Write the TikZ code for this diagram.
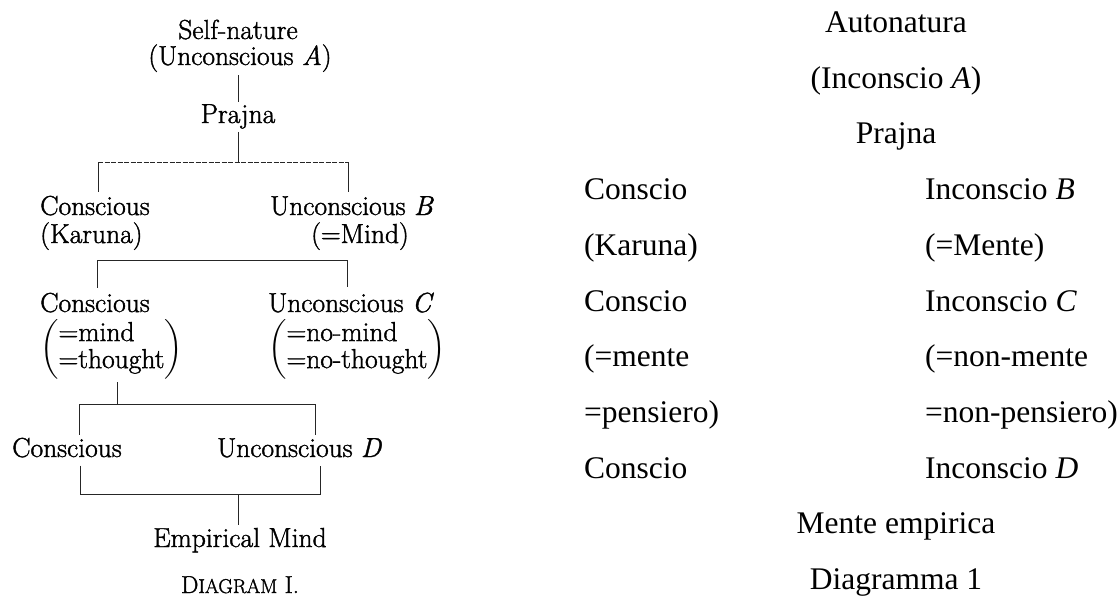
\documentclass[tikz,border=0pt]{standalone}
\usepackage{fontspec}
\usepackage{amsmath}
\newfontfamily\tnr{Liberation Serif}
\newfontfamily\scan[FakeBold=1.4]{Latin Modern Roman}
\newcommand{\twoline}[2]{$\left(\renewcommand{\arraystretch}{0.94}\fontsize{27.5}{28.2}\selectfont\begin{tabular}{@{}l@{}}#1\\#2\end{tabular}\right)$}
\begin{document}
\begin{tikzpicture}[x=1pt,y=-1pt,
  lm/.style={inner sep=0pt, font=\scan\fontsize{27.5}{27.5}\selectfont},
  captxt/.style={inner sep=0pt, font=\scan\fontsize{24.5}{24.5}\selectfont},
  tr/.style={inner sep=0pt, font=\tnr\fontsize{31.5}{31.5}\selectfont},
  ln/.style={line width=0.9pt, black!85},
  brk/.style={ln, dash pattern=on 5pt off 1.5pt},
]
\useasboundingbox (0,0) rectangle (1119,603);

% ---------------- left: scanned diagram ----------------
\node[lm, anchor=base] (sn) at (238,39) {Self-nature};
\node[lm, anchor=base] (ua) at (240,65) {(Unconscious \textit{A})};
\node[lm, anchor=base] (pr) at (238,123) {Prajna};
\draw[ln, shorten <=3pt, shorten >=2pt] (pr.north |- ua.south) -- (pr.north);

\coordinate (b1)  at (237,162);
\coordinate (b1l) at (98,162);
\coordinate (b1r) at (348,162);
\draw[ln, shorten <=3pt] (pr.south) -- (pr.south |- b1);

\node[lm, anchor=base west] (c1) at (40,215) {Conscious};
\node[lm, anchor=base west] (k1) at (40,243) {(Karuna)};
\node[lm, anchor=base west] (u1) at (270,215) {Unconscious \textit{B}};
\node[lm, anchor=base] (m1) at (360,243) {(=Mind)};
\draw[brk] (b1l) -- (b1r);
\draw[ln, shorten >=4pt] (b1l) -- (b1l |- c1.north);
\draw[ln, shorten >=4pt] (b1r) -- (b1r |- u1.north);

\coordinate (b2l) at (97,260);
\coordinate (b2r) at (347,260);
\node[lm, anchor=base west] (c2) at (40,312) {Conscious};
\node[lm, anchor=base west] (u2) at (268,312) {Unconscious \textit{C}};
\draw[ln, shorten <=5pt, shorten >=5pt] (b2l |- c2.north) -- (b2l) -- (b2r) -- (b2r |- u2.north);

\node[lm, anchor=west] (p1) at (40,349) {\twoline{=mind}{=thought}};
\node[lm, anchor=west] (p2) at (268,349) {\twoline{=no-mind}{=no-thought}};

\coordinate (b3)  at (117,404);
\coordinate (b3l) at (79,404);
\coordinate (b3r) at (315,404);
\draw[ln, shorten <=3pt] (b3 |- p1.south) -- (b3);

\node[lm, anchor=base west] (c3) at (12,457) {Conscious};
\node[lm, anchor=base west] (d3) at (217,457) {Unconscious \textit{D}};
\draw[ln, shorten <=3pt, shorten >=3pt] (b3l |- c3.north) -- (b3l) -- (b3r) -- (b3r |- d3.north);

\coordinate (b4)  at (238,494);
\coordinate (b4l) at (80,494);
\coordinate (b4r) at (320,494);
\draw[ln, shorten <=8pt, shorten >=8pt] (b4l |- c3.south) -- (b4l) -- (b4r) -- (b4r |- d3.south);

\node[lm, anchor=base] (em) at (240,547) {Empirical Mind};
\draw[ln, shorten >=3pt] (b4) -- (b4 |- em.north);
\node[captxt, anchor=base] (dg) at (240,593)
  {D{\fontsize{20}{20}\selectfont IAGRAM} I.};

% ---------------- right: Italian text ----------------
\node[tr, anchor=base] (ra1) at (896,32) {Autonatura};
\node[tr, anchor=base] (ra2) at (896,88) {(Inconscio \textit{A})};
\node[tr, anchor=base] (rpr) at (896,143) {Prajna};

\node[tr, anchor=base west] (rc1) at (584,199) {Conscio};
\node[tr, anchor=base west] (rk1) at (584,255) {(Karuna)};
\node[tr, anchor=base west] (rc2) at (584,311) {Conscio};
\node[tr, anchor=base west] (rm1) at (584,366) {(=mente};
\node[tr, anchor=base west] (rp1) at (584,422) {=pensiero)};
\node[tr, anchor=base west] (rc3) at (584,478) {Conscio};

\node[tr, anchor=base west] (ru1) at (925,199) {Inconscio \textit{B}};
\node[tr, anchor=base west] (rm2) at (925,255) {(=Mente)};
\node[tr, anchor=base west] (ru2) at (925,311) {Inconscio \textit{C}};
\node[tr, anchor=base west] (rn1) at (925,366) {(=non-mente};
\node[tr, anchor=base west] (rn2) at (925,422) {=non-pensiero)};
\node[tr, anchor=base west] (ru3) at (925,478) {Inconscio \textit{D}};

\node[tr, anchor=base] (rem) at (896,533) {Mente empirica};
\node[tr, anchor=base] (rdg) at (896,589) {Diagramma 1};
\end{tikzpicture}
\end{document}
